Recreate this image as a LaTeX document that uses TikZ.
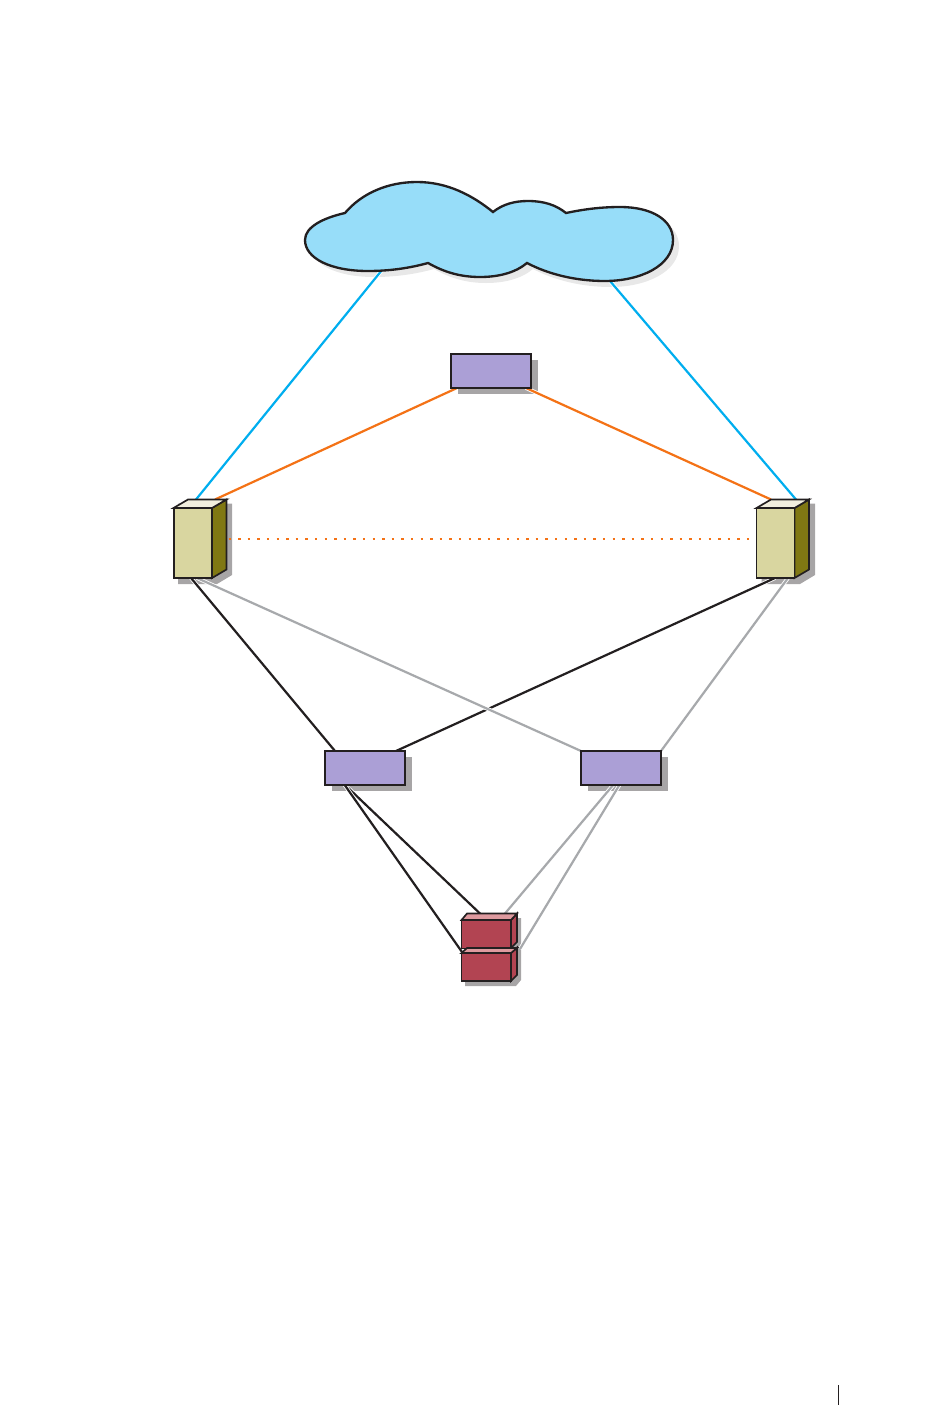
\documentclass[tikz,border=0pt]{standalone}
\usetikzlibrary{calc}
\definecolor{cloudfill}{HTML}{97DDF9}
\definecolor{cblue}{HTML}{00AEEF}
\definecolor{corange}{HTML}{F47216}
\definecolor{cpurple}{HTML}{AB9FD6}
\definecolor{ctan}{HTML}{D9D6A0}
\definecolor{ctantop}{HTML}{F2EFDE}
\definecolor{colive}{HTML}{807813}
\definecolor{cred}{HTML}{B24452}
\definecolor{credtop}{HTML}{DE9A9F}
\definecolor{cshadow}{HTML}{A7A5A6}
\definecolor{cgrey}{HTML}{A7A9AC}
\definecolor{cblack}{HTML}{231F20}
\definecolor{cloudshadow}{HTML}{E8E8E8}
\tikzset{
  wire/.style={line width=1.65pt,preaction={draw=white,line width=2.9pt}},
  bluewire/.style={wire,draw=cblue},
  orangewire/.style={wire,draw=corange},
  blackwire/.style={wire,draw=cblack},
  greywire/.style={wire,draw=cgrey},
  dotwire/.style={line width=1.6pt,draw=corange,dash pattern=on 1.9pt off 5.3pt},
  face/.style={draw=cblack,line width=1.25pt,line join=miter},
  boxbase/.style={rectangle,inner sep=0pt,outer sep=0pt,draw=cblack,line width=1.5pt},
  switchbox/.style={boxbase,fill=cpurple,minimum width=60pt,minimum height=25.5pt},
  towerbox/.style={boxbase,fill=ctan,line width=1.25pt,minimum width=28.5pt,minimum height=52.5pt},
  shelfbox/.style={boxbase,fill=cred,line width=1.25pt,minimum width=37.1pt,minimum height=21.4pt},
}
\begin{document}
\begin{tikzpicture}[x=0.75pt,y=-0.75pt]
\useasboundingbox (0,0) rectangle (950,1414);
% connection points
\coordinate (cloudL) at (382,270);
\coordinate (cloudR) at (610,281);
\coordinate (tlTopA) at (196,499.5);
\coordinate (tlTopB) at (215,499.5);
\coordinate (trTopA) at (796,499.5);
\coordinate (trTopB) at (771,499.5);
\coordinate (hubL) at (457,388);
\coordinate (hubR) at (526,388);
\coordinate (tlSide) at (228.5,539);
\coordinate (trSide) at (756,539);
\coordinate (tlBotA) at (191,578);
\coordinate (tlBotB) at (197,578);
\coordinate (trBotA) at (775,578);
\coordinate (trBotB) at (788,578);
\coordinate (swaTopA) at (335,751);
\coordinate (swaTopB) at (396,751);
\coordinate (swbTopA) at (581,751);
\coordinate (swbTopB) at (661,751);
\coordinate (swaBot) at (344,784);
\coordinate (swbBotA) at (614,784);
\coordinate (swbBotB) at (620,784);
\coordinate (stUpperA) at (480,913.5);
\coordinate (stLowerA) at (462,952);
\coordinate (stUpperB) at (505,913.5);
\coordinate (stLowerB) at (520,949);
% cloud
\def\cloudpath{(345,213)
 .. controls (362,193) and (388,182) .. (417,182)
 .. controls (447,182) and (472,195) .. (493,212)
 .. controls (503,204) and (515,201) .. (528,201)
 .. controls (544,201) and (556,205) .. (566,213)
 .. controls (585,209) and (602,207) .. (620,207)
 .. controls (652,207) and (673,220) .. (673,240)
 .. controls (673,266) and (640,281) .. (605,281)
 .. controls (575,281) and (548,274) .. (527,263)
 .. controls (515,273) and (498,277) .. (480,277)
 .. controls (460,277) and (444,272) .. (428,263)
 .. controls (410,268) and (390,271) .. (368,271)
 .. controls (330,271) and (305,258) .. (305,240)
 .. controls (305,227) and (323,218) .. (345,213) -- cycle}
\fill[cloudshadow,shift={(6,6)}] \cloudpath;
% shadows
\fill[cshadow] (458,360) rectangle (538,394);
\fill[cshadow] (332,757) rectangle (412,791);
\fill[cshadow] (588,757) rectangle (668,791);
\fill[cshadow] (178,503.5) -- (232,503.5) -- (232,575) -- (217,584) -- (178,584) -- cycle;
\fill[cshadow] (761.5,503.5) -- (815,503.5) -- (815,575) -- (800,584) -- (761.5,584) -- cycle;
\fill[cshadow] (465,918) -- (521,918) -- (521,980) -- (516,986) -- (465,986) -- cycle;
% connectors
\draw[bluewire] (cloudL) -- (tlTopA);
\draw[bluewire] (cloudR) -- (trTopA);
\draw[orangewire] (hubL) -- (tlTopB);
\draw[orangewire] (hubR) -- (trTopB);
\draw[dotwire] (tlSide) -- (trSide);
\draw[blackwire] (tlBotA) -- (swaTopA);
\draw[blackwire] (trBotA) -- (swaTopB);
\draw[greywire] (tlBotB) -- (swbTopA);
\draw[greywire] (trBotB) -- (swbTopB);
\draw[blackwire] (swaBot) -- (stUpperA);
\draw[blackwire] (swaBot) -- (stLowerA);
\draw[greywire] (swbBotA) -- (stUpperB);
\draw[greywire] (swbBotB) -- (stLowerB);
% cloud on top
\draw[fill=cloudfill,draw=cblack,line width=1.75pt,line join=miter] \cloudpath;
% switches
\node[switchbox] (hub) at (491,371) {};
\node[switchbox] (swa) at (365,767.5) {};
\node[switchbox] (swb) at (621,767.5) {};
% left tower
\draw[face,fill=colive] (212,508) -- (226.5,499.5) -- (226.5,569.5) -- (212,578) -- cycle;
\draw[face,fill=ctantop] (173.5,508) -- (188,499.5) -- (226.5,499.5) -- (212,508) -- cycle;
\node[towerbox] (towerL) at (192.75,543) {};
% right tower
\draw[face,fill=colive] (794.5,508) -- (809,499.5) -- (809,569.5) -- (794.5,578) -- cycle;
\draw[face,fill=ctantop] (756.5,508) -- (771,499.5) -- (809,499.5) -- (794.5,508) -- cycle;
\node[towerbox] (towerR) at (775.5,543) {};
% storage shelves
\draw[face,fill=cred] (511,920) -- (517,913.5) -- (517,942) -- (511,948) -- cycle;
\draw[face,fill=credtop] (461.5,920) -- (467,913.5) -- (517,913.5) -- (511,920) -- cycle;
\node[shelfbox] (shelfU) at (486.25,934.25) {};
\draw[face,fill=cred] (511,953) -- (517,947.5) -- (517,975) -- (511,981) -- cycle;
\draw[face,fill=credtop] (461.5,953) -- (467,948) -- (517,948) -- (511,953) -- cycle;
\node[shelfbox] (shelfL) at (486.25,967) {};
% page rule
\coordinate (ruleT) at (838.3,1385);
\coordinate (ruleB) at (838.3,1405);
\draw[draw=cblack,line width=1pt] (ruleT) -- (ruleB);
\end{tikzpicture}
\end{document}
